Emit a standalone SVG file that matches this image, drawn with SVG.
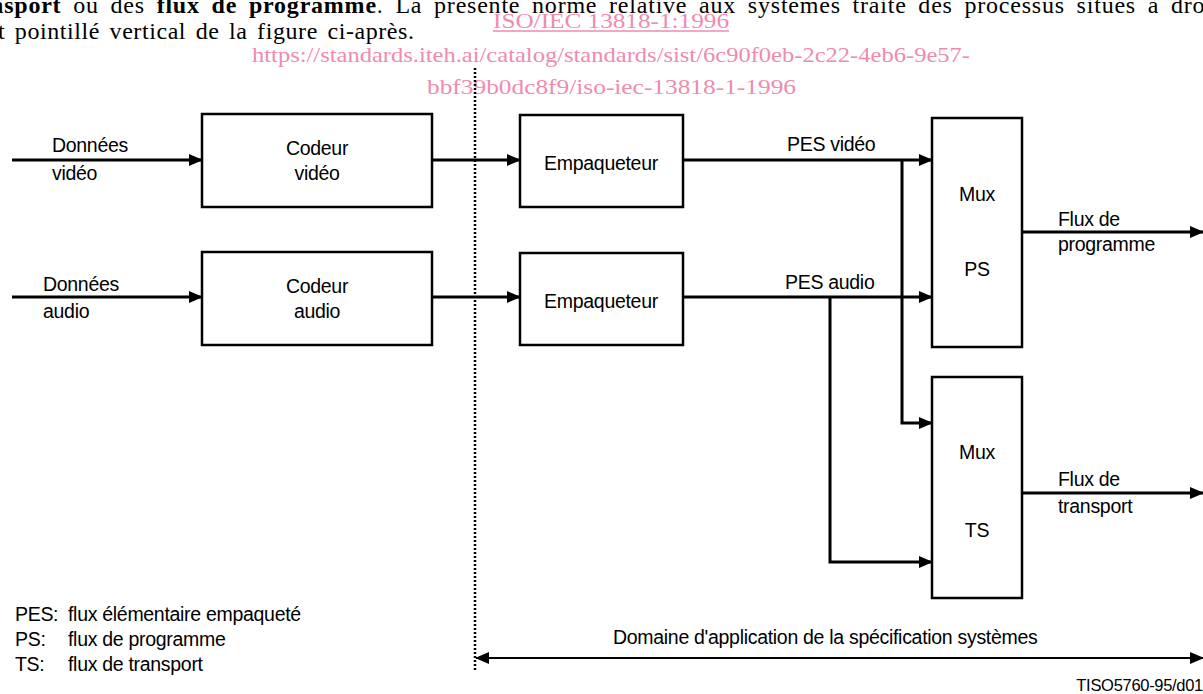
<svg xmlns="http://www.w3.org/2000/svg" width="1203" height="694" viewBox="0 0 1203 694">
<defs>
<marker id="ah" markerWidth="14" markerHeight="12" refX="13" refY="6" orient="auto" markerUnits="userSpaceOnUse">
<path d="M0,0 L14,6 L0,12 Z" fill="#000"/>
</marker>
<marker id="ahs" markerWidth="14" markerHeight="12" refX="1" refY="6" orient="auto" markerUnits="userSpaceOnUse">
<path d="M14,0 L0,6 L14,12 Z" fill="#000"/>
</marker>
<style>
.box{fill:#fff;stroke:#000;stroke-width:2.5}
.ln{fill:none;stroke:#000;stroke-width:3}
.thin{fill:none;stroke:#000;stroke-width:1.8}
.t{font-family:"Liberation Sans",Arial,sans-serif;font-size:19.5px;fill:#000;letter-spacing:-0.3px}
.c{text-anchor:middle}
.serif{font-family:"Liberation Serif","Times New Roman",serif;font-size:24px;fill:#000}
.wm{font-family:"Liberation Serif","Times New Roman",serif;font-size:22px;fill:#f08aae}
</style>
</defs>
<rect width="1203" height="694" fill="#fff"/>
<g id="header">
<text class="serif" x="-10" y="13" word-spacing="5" textLength="1222" lengthAdjust="spacing"><tspan font-weight="bold">nsport</tspan> ou des <tspan font-weight="bold">flux de programme</tspan>. La présente norme relative aux systèmes traite des processus situés à droi</text>
<text class="serif" x="-2" y="39" word-spacing="3" textLength="416" lengthAdjust="spacing">t pointillé vertical de la figure ci-après.</text>
</g>
<g id="watermark">
<text class="wm" x="493" y="28" textLength="236" lengthAdjust="spacingAndGlyphs">ISO/IEC 13818-1:1996</text>
<line x1="493" y1="31" x2="729" y2="31" stroke="#f08aae" stroke-width="1.3"/>
<text class="wm" x="252" y="62" textLength="718" lengthAdjust="spacingAndGlyphs">https://standards.iteh.ai/catalog/standards/sist/6c90f0eb-2c22-4eb6-9e57-</text>
<text class="wm" x="427" y="94" textLength="369" lengthAdjust="spacingAndGlyphs">bbf39b0dc8f9/iso-iec-13818-1-1996</text>
</g>
<g id="connectors">
<line x1="475" y1="68" x2="475" y2="672" stroke="#000" stroke-width="2.5" stroke-dasharray="2,2"/>
<line class="ln" x1="12" y1="160" x2="202" y2="160" marker-end="url(#ah)"/>
<line class="ln" x1="12" y1="297" x2="202" y2="297" marker-end="url(#ah)"/>
<line class="ln" x1="432" y1="160" x2="520" y2="160" marker-end="url(#ah)"/>
<line class="ln" x1="432" y1="297" x2="520" y2="297" marker-end="url(#ah)"/>
<line class="ln" x1="683" y1="160" x2="932" y2="160" marker-end="url(#ah)"/>
<line class="ln" x1="683" y1="297" x2="932" y2="297" marker-end="url(#ah)"/>
<polyline class="ln" points="902,160 902,423 932,423" marker-end="url(#ah)"/>
<polyline class="ln" points="830,297 830,562 932,562" marker-end="url(#ah)"/>
<line class="ln" x1="1022" y1="232" x2="1203" y2="232" marker-end="url(#ah)"/>
<line class="ln" x1="1022" y1="493" x2="1203" y2="493" marker-end="url(#ah)"/>
<line class="thin" x1="476" y1="658" x2="1203" y2="658" marker-start="url(#ahs)" marker-end="url(#ah)"/>
</g>
<g id="in-video">
<text class="t" x="52" y="152">Données</text>
<text class="t" x="52" y="180">vidéo</text>
</g>
<g id="in-audio">
<text class="t" x="43" y="291">Données</text>
<text class="t" x="43" y="318">audio</text>
</g>
<g id="codeur-video">
<rect class="box" x="202" y="114" width="230" height="93"/>
<text class="t c" x="317" y="155">Codeur</text>
<text class="t c" x="317" y="180">vidéo</text>
</g>
<g id="codeur-audio">
<rect class="box" x="202" y="252" width="230" height="93"/>
<text class="t c" x="317" y="293">Codeur</text>
<text class="t c" x="317" y="318">audio</text>
</g>
<g id="empaq-video">
<rect class="box" x="520" y="115" width="163" height="92"/>
<text class="t c" x="601" y="170">Empaqueteur</text>
</g>
<g id="empaq-audio">
<rect class="box" x="520" y="253" width="163" height="92"/>
<text class="t c" x="601" y="308">Empaqueteur</text>
</g>
<g id="lbl-pes">
<text class="t" x="787" y="151">PES vidéo</text>
<text class="t" x="785" y="289">PES audio</text>
</g>
<g id="mux-ps">
<rect class="box" x="932" y="118" width="90" height="229"/>
<text class="t c" x="977" y="201">Mux</text>
<text class="t c" x="977" y="276">PS</text>
</g>
<g id="mux-ts">
<rect class="box" x="932" y="377" width="90" height="221"/>
<text class="t c" x="977" y="459">Mux</text>
<text class="t c" x="977" y="537">TS</text>
</g>
<g id="out-ps">
<text class="t" x="1058" y="226">Flux de</text>
<text class="t" x="1058" y="251">programme</text>
</g>
<g id="out-ts">
<text class="t" x="1058" y="486">Flux de</text>
<text class="t" x="1058" y="513">transport</text>
</g>
<g id="legend">
<text class="t" x="15" y="621">PES:</text><text class="t" x="68" y="621">flux élémentaire empaqueté</text>
<text class="t" x="15" y="646">PS:</text><text class="t" x="68" y="646">flux de programme</text>
<text class="t" x="15" y="671">TS:</text><text class="t" x="68" y="671">flux de transport</text>
</g>
<g id="scope">
<text class="t" x="613" y="644">Domaine d'application de la spécification systèmes</text>
</g>
<text class="t" x="1203" y="691" text-anchor="end" style="font-size:16.5px">TISO5760-95/d01</text>
</svg>
